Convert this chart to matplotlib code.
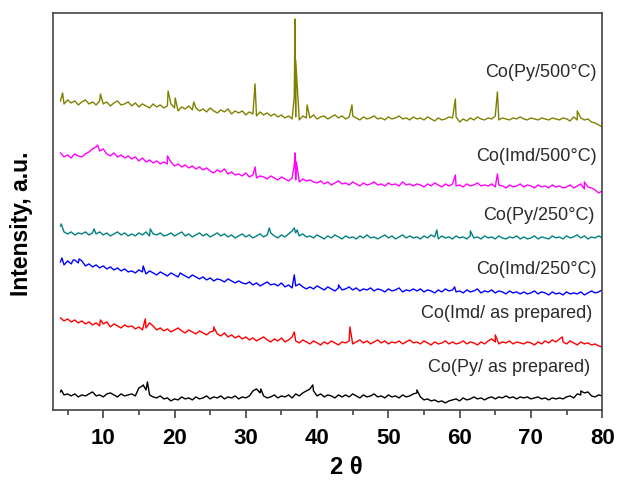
import numpy as np
import matplotlib.pyplot as plt

plt.rcParams['font.family'] = ['Liberation Sans', 'DejaVu Sans']

# 2-theta grid, 4..80 step 0.5
two_theta = np.arange(4.0, 80.01, 0.5)

# intensities (a.u., already stacked)
py_500 = [309, 306, 310, 307, 309, 305, 308, 310, 306, 308,
          305, 309, 306, 308, 304, 307, 309, 305, 306, 308,
          304, 307, 303, 306, 304, 302, 306, 303, 305, 302,
          304, 306, 302, 299, 303, 301, 304, 300, 302, 299,
          301, 298, 302, 299, 297, 300, 298, 301, 296, 299,
          297, 299, 295, 298, 296, 294, 298, 295, 297, 294,
          296, 293, 295, 292, 294, 291, 293, 290, 294, 292,
          292, 295, 291, 293, 294, 291, 293, 295, 292, 294,
          291, 293, 294, 292, 290, 293, 291, 292, 294, 291,
          292, 290, 293, 291, 292, 294, 291, 292, 290, 293,
          291, 292, 290, 293, 291, 289, 292, 290, 291, 293,
          292, 293, 288, 291, 289, 292, 290, 293, 291, 290,
          292, 291, 294, 290, 292, 291, 290, 292, 291, 293,
          291, 290, 292, 291, 290, 292, 291, 290, 292, 291,
          290, 292, 291, 289, 293, 290, 292, 290, 291, 288,
          287, 285, 283]
py_500_peaks_x = [4.3, 9.6, 19.1, 20.1, 22.7, 31.3, 36.8, 36.9, 37.0, 38.6, 44.9, 59.4, 65.3, 76.5]
py_500_peaks_y = [317, 316, 319, 312, 308, 326, 313, 391, 350, 305, 305, 311, 318, 299]

imd_500 = [257, 253, 255, 252, 256, 254, 253, 256, 258, 261,
           263, 259, 261, 256, 254, 257, 253, 255, 252, 254,
           251, 253, 249, 252, 248, 250, 247, 249, 246, 248,
           246, 248, 244, 246, 243, 245, 242, 244, 241, 243,
           240, 242, 239, 237, 240, 238, 241, 236, 238, 235,
           236, 234, 237, 233, 235, 232, 234, 233, 231, 234,
           232, 230, 233, 231, 229, 232, 230, 228, 231, 229,
           230, 228, 227, 229, 226, 228, 225, 227, 229, 226,
           227, 225, 228, 226, 224, 227, 225, 226, 228, 225,
           226, 224, 227, 225, 226, 224, 228, 225, 226, 224,
           226, 225, 223, 226, 224, 227, 225, 223, 226, 224,
           226, 224, 225, 223, 226, 224, 225, 227, 224, 225,
           224, 226, 223, 225, 224, 222, 225, 223, 224, 226,
           223, 225, 224, 222, 225, 223, 224, 222, 225, 223,
           224, 222, 223, 225, 222, 224, 226, 221, 223, 222,
           220, 217, 219]
imd_500_peaks_x = [9.2, 19.0, 31.3, 36.8, 36.9, 37.1, 59.4, 65.3, 77.5]
imd_500_peaks_y = [265, 254, 243, 245, 257, 248, 235, 236, 228]

py_250 = [184, 178, 176, 178, 175, 177, 176, 178, 175, 177,
          176, 178, 175, 177, 174, 176, 178, 175, 177, 174,
          176, 174, 177, 175, 178, 174, 176, 175, 177, 174,
          175, 177, 174, 176, 178, 174, 176, 173, 175, 177,
          174, 176, 173, 175, 177, 174, 176, 173, 175, 172,
          174, 176, 173, 175, 172, 174, 176, 173, 175, 177,
          174, 172, 175, 173, 176, 179, 177, 174, 176, 173,
          174, 172, 175, 173, 171, 174, 172, 175, 173, 171,
          174, 172, 173, 171, 174, 172, 175, 172, 173, 171,
          173, 175, 172, 174, 171, 173, 175, 172, 174, 172,
          173, 171, 174, 172, 175, 173, 171, 174, 172, 173,
          171, 174, 172, 173, 171, 174, 172, 173, 171, 174,
          172, 173, 171, 174, 172, 171, 173, 172, 174, 171,
          173, 171, 172, 174, 171, 173, 172, 171, 174, 172,
          173, 171, 174, 172, 173, 175, 172, 174, 171, 173,
          172, 174, 172]
py_250_peaks_x = [4.1, 8.7, 16.6, 33.3, 36.8, 37.2, 56.8, 61.5]
py_250_peaks_y = [186, 181, 181, 182, 182, 180, 180, 179]

imd_250 = [148, 145, 149, 146, 150, 147, 149, 144, 146, 143,
           145, 142, 144, 141, 143, 140, 142, 139, 141, 138,
           139, 137, 140, 138, 136, 139, 137, 135, 138, 136,
           134, 137, 135, 133, 136, 134, 132, 135, 133, 131,
           133, 130, 132, 129, 131, 130, 128, 131, 129, 127,
           129, 127, 126, 128, 125, 127, 124, 126, 128, 125,
           126, 124, 127, 123, 125, 122, 124, 126, 123, 121,
           123, 121, 124, 122, 120, 123, 121, 119, 122, 120,
           121, 123, 120, 122, 119, 121, 120, 122, 119, 121,
           120, 118, 121, 119, 120, 122, 118, 120, 119, 121,
           119, 121, 118, 120, 119, 117, 120, 118, 121, 119,
           120, 118, 119, 117, 120, 118, 119, 121, 117, 119,
           118, 120, 117, 119, 118, 116, 119, 117, 118, 116,
           118, 116, 117, 119, 116, 118, 117, 115, 118, 116,
           117, 115, 118, 116, 117, 116, 118, 115, 117, 119,
           117, 118, 120]
imd_250_peaks_x = [4.2, 5.8, 6.6, 15.6, 20.8, 36.8, 43.0, 59.3]
imd_250_peaks_y = [152, 150, 151, 144, 137, 135, 125, 123]

imd_prep = [92, 89, 91, 88, 90, 87, 89, 86, 88, 85,
            87, 84, 86, 88, 83, 86, 84, 82, 85, 83,
            84, 81, 83, 80, 82, 87, 84, 80, 82, 79,
            81, 78, 80, 82, 79, 77, 80, 78, 76, 79,
            77, 75, 78, 79, 76, 74, 77, 73, 75, 72,
            74, 71, 73, 70, 72, 69, 71, 73, 70, 68,
            71, 69, 72, 68, 70, 73, 69, 67, 70, 68,
            66, 69, 67, 65, 68, 66, 69, 67, 65, 68,
            67, 69, 66, 68, 70, 67, 69, 66, 68, 70,
            67, 69, 66, 68, 67, 69, 66, 68, 70, 67,
            68, 66, 69, 67, 65, 68, 66, 67, 69, 66,
            68, 66, 67, 69, 66, 68, 67, 65, 68, 66,
            69, 71, 68, 66, 68, 67, 69, 66, 68, 67,
            66, 68, 67, 65, 68, 66, 69, 67, 70, 68,
            71, 68, 66, 69, 67, 65, 68, 66, 67, 65,
            66, 64, 63]
imd_prep_peaks_x = [9.6, 15.9, 25.5, 36.8, 44.6, 65.0, 74.4]
imd_prep_peaks_y = [90, 91, 83, 78, 83, 75, 73]

py_prep = [18, 15, 16, 14, 16, 13, 15, 14, 16, 18,
           14, 15, 13, 16, 17, 15, 13, 16, 14, 15,
           16, 14, 22, 24, 20, 15, 13, 12, 14, 11,
           12, 9, 11, 10, 13, 11, 12, 10, 13, 11,
           12, 14, 11, 13, 12, 14, 11, 13, 12, 14,
           11, 13, 12, 14, 19, 21, 17, 14, 12, 13,
           15, 12, 14, 13, 15, 12, 16, 14, 17, 19,
           21, 19, 14, 16, 13, 15, 14, 12, 15, 13,
           15, 13, 16, 14, 12, 15, 13, 14, 16, 13,
           14, 12, 15, 13, 14, 12, 15, 13, 14, 16,
           17, 13, 10, 11, 9, 10, 8, 9, 7, 9,
           10, 11, 9, 12, 10, 11, 13, 11, 12, 10,
           12, 13, 11, 13, 12, 14, 12, 13, 11, 13,
           12, 13, 11, 12, 13, 11, 12, 10, 12, 11,
           12, 11, 13, 14, 12, 16, 15, 17, 18, 14,
           13, 15, 14]
py_prep_peaks_x = [4.1, 15.6, 16.2, 32.1, 39.4, 54.0, 77.0]
py_prep_peaks_y = [20, 25, 28, 21, 25, 20, 19]

names = ['Co(Py/500°C)', 'Co(Imd/500°C)', 'Co(Py/250°C)',
         'Co(Imd/250°C)', 'Co(Imd/ as prepared)', 'Co(Py/ as prepared)']
colors = ['#808000', '#ff00ff', '#008080', '#0000ff', '#ff0000', '#000000']
series = [(py_500, py_500_peaks_x, py_500_peaks_y),
          (imd_500, imd_500_peaks_x, imd_500_peaks_y),
          (py_250, py_250_peaks_x, py_250_peaks_y),
          (imd_250, imd_250_peaks_x, imd_250_peaks_y),
          (imd_prep, imd_prep_peaks_x, imd_prep_peaks_y),
          (py_prep, py_prep_peaks_x, py_prep_peaks_y)]
# label anchor (right edge x, center y)
label_x = [79.2, 79.2, 78.9, 79.2, 78.6, 78.3]
label_y = [337, 253, 194, 140, 96, 42]

fig = plt.figure(figsize=(6.17, 4.8), dpi=100)
ax = fig.add_axes([0.086, 0.146, 0.89, 0.827])

for (vals, px, pyv), c in zip(series, colors):
    x = np.concatenate([two_theta, px])
    y = np.concatenate([vals, pyv])
    order = np.argsort(x, kind='stable')
    ax.plot(x[order], y[order], color=c, lw=1.0)

for name, lx, ly in zip(names, label_x, label_y):
    ax.text(lx, ly, name, ha='right', va='center', fontsize=13, color='#2a2a2a')

ax.set_xlim(2.96, 80)
ax.set_ylim(0, 397)
ax.set_xticks(range(10, 81, 10))
ax.set_xticks(range(5, 80, 10), minor=True)
ax.set_yticks([])
ax.tick_params(axis='x', which='major', direction='out', length=6, width=1.1,
               labelsize=16, pad=7, colors='#333333', labelcolor='black')
ax.tick_params(axis='x', which='minor', direction='out', length=3.5, width=1.1, colors='#333333')
for lab in ax.get_xticklabels():
    lab.set_fontweight('bold')
for s in ax.spines.values():
    s.set_color('#444444')
    s.set_linewidth(1.2)

ax.set_xlabel('2 θ', fontsize=17, fontweight='bold')
ax.xaxis.set_label_coords(0.534, -0.115)
ax.set_ylabel('Intensity, a.u.', fontsize=16.5, fontweight='bold')
ax.yaxis.set_label_coords(-0.036, 0.47)

plt.savefig('out.png', dpi=100)
